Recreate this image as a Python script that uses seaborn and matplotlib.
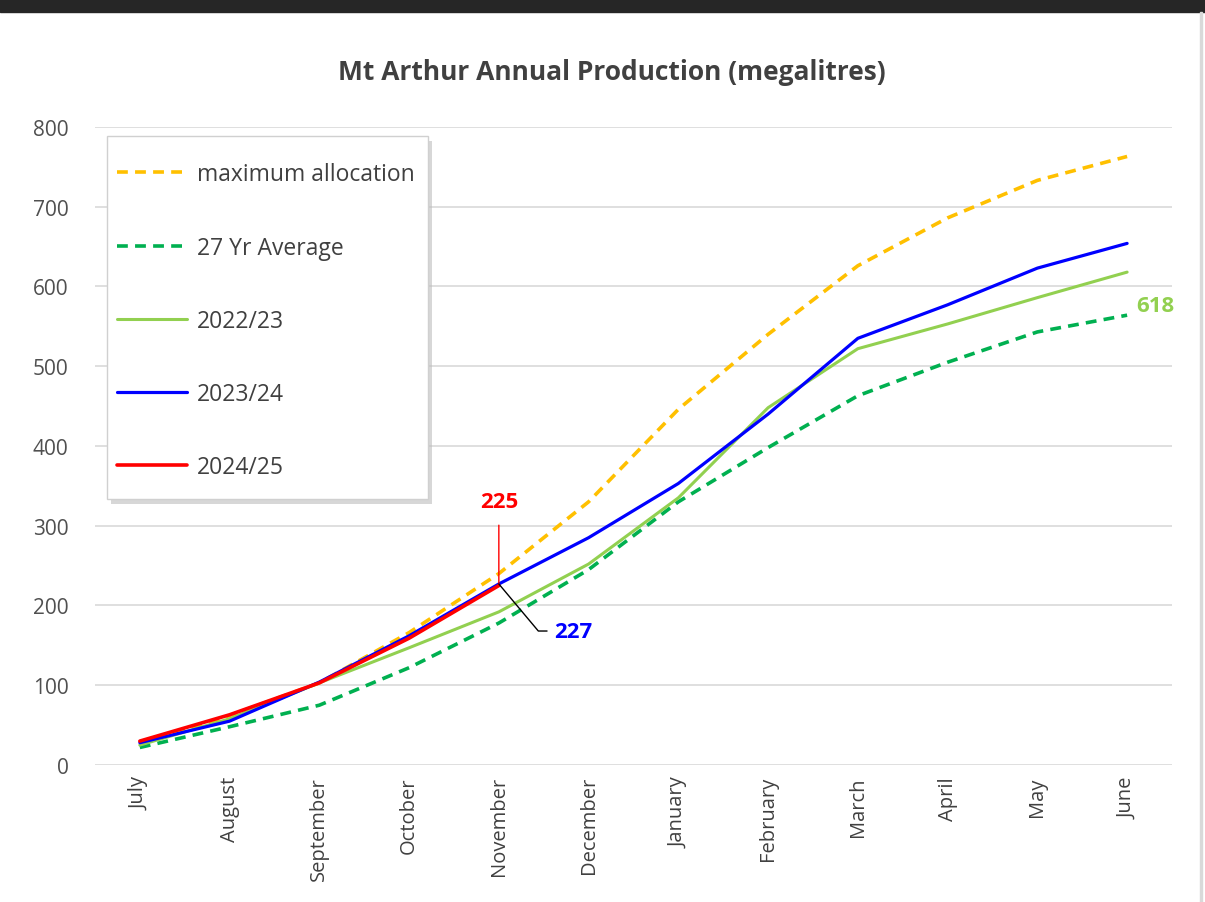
import seaborn as sns
import matplotlib.pyplot as plt
import pandas as pd
from matplotlib.patches import Rectangle

months = ['July', 'August', 'September', 'October', 'November', 'December',
          'January', 'February', 'March', 'April', 'May', 'June']
max_alloc = [27, 62, 103, 166, 240, 330, 446, 540, 626, 686, 733, 763]
avg_27yr = [22, 48, 75, 122, 178, 245, 330, 398, 463, 505, 543, 564]
y2022_23 = [25, 58, 103, 147, 192, 252, 335, 448, 522, 553, 586, 618]
y2023_24 = [28, 55, 104, 162, 227, 285, 353, 440, 535, 577, 623, 654]
y2024_25 = [30, 63, 103, 159, 225]

series_names = ['maximum allocation', '27 Yr Average', '2022/23', '2023/24', '2024/25']
series_values = [max_alloc, avg_27yr, y2022_23, y2023_24, y2024_25]
colors = ['#FFC000', '#00B050', '#92D050', '#0000FF', '#FF0000']
styles = [(0, (3, 2)), (0, (3, 2)), '-', '-', '-']
widths = [2.6, 2.6, 2.2, 2.3, 2.6]

sns.set_style('white')
plt.rcParams['font.family'] = ['Open Sans', 'DejaVu Sans']

fig = plt.figure(figsize=(12.05, 9.03), dpi=100)
ax = fig.add_axes([0.0788, 0.1517, 0.8938, 0.7066])

for name, vals, c, ls, lw in zip(series_names, series_values, colors, styles, widths):
    df = pd.DataFrame({'x': range(len(vals)), 'y': vals})
    sns.lineplot(data=df, x='x', y='y', ax=ax, color=c, linestyle=ls,
                 linewidth=lw, label=name)

ax.set_xlim(-0.5, len(months) - 0.5)
ax.set_ylim(0, 800)
ax.set_yticks(range(0, 801, 100))
ax.set_xticks(range(len(months)))
ax.set_xticklabels(months, rotation=90, va='top', ha='center')
ax.tick_params(axis='y', length=0, pad=19, labelsize=15, labelcolor='#505050')
ax.tick_params(axis='x', length=0, pad=8, labelsize=14.5, labelcolor='#404040')
ax.set_xlabel('')
ax.set_ylabel('')
ax.grid(axis='y', color='#d9d9d9', linewidth=1.2)
ax.grid(axis='x', visible=False)
for s in ax.spines.values():
    s.set_visible(False)

# annotations
nov = months.index('November')
ax.annotate(str(y2024_25[nov]), xy=(nov, y2024_25[nov]), xytext=(nov, 317),
            ha='center', va='bottom', color='#FF0000', fontsize=16, fontweight='bold',
            arrowprops=dict(arrowstyle='-', color='#FF0000', lw=1, shrinkA=7, shrinkB=0))
ax.annotate(str(y2023_24[nov]), xy=(nov, y2023_24[nov]), xytext=(nov + 0.62, 168),
            ha='left', va='center', color='#0000FF', fontsize=16, fontweight='bold',
            arrowprops=dict(arrowstyle='-', color='black', lw=1, shrinkA=3, shrinkB=0,
                            connectionstyle='angle,angleA=180,angleB=-50,rad=0'))
ax.text(len(months) - 1 + 0.1, y2022_23[-1] - 42, str(y2022_23[-1]),
        color='#92D050', fontsize=16, fontweight='bold', ha='left', va='center')

# legend box drawn by hand so the padding can differ left/right and top/bottom
box_x0, box_y0, box_w, box_h = 0.0111, 0.417, 0.298, 0.569
ax.add_patch(Rectangle((box_x0 + 0.004, box_y0 - 0.008), box_w, box_h, transform=ax.transAxes,
                       facecolor='#bdbdbd', edgecolor='none', alpha=0.6, zorder=9))
ax.add_patch(Rectangle((box_x0, box_y0), box_w, box_h, transform=ax.transAxes,
                       facecolor='white', edgecolor='#d0d0d0', linewidth=1, zorder=9.5))
leg = ax.legend(loc='center left', bbox_to_anchor=(0.0004, 0.696), fontsize=16.5,
                handlelength=3.05, handletextpad=0.44, labelspacing=2.15,
                borderpad=0.45, frameon=False)
leg.set_zorder(10)
for t in leg.get_texts():
    t.set_color('#404040')

fig.text(0.508, 1 - 73 / 903, 'Mt Arthur Annual Production (megalitres)',
         ha='center', va='center', fontsize=19, fontweight='bold', color='#404040')

# dark band on top and thin border on right
fig.patches.append(Rectangle((0, 1 - 13 / 903), 1, 13 / 903, transform=fig.transFigure,
                             color='#262626', zorder=5))
fig.patches.append(Rectangle((1200 / 1205, 0), 1.5 / 1205, 1 - 13 / 903,
                             transform=fig.transFigure, color='#d9d9d9', zorder=5))

fig.savefig('out.png', dpi=100)
